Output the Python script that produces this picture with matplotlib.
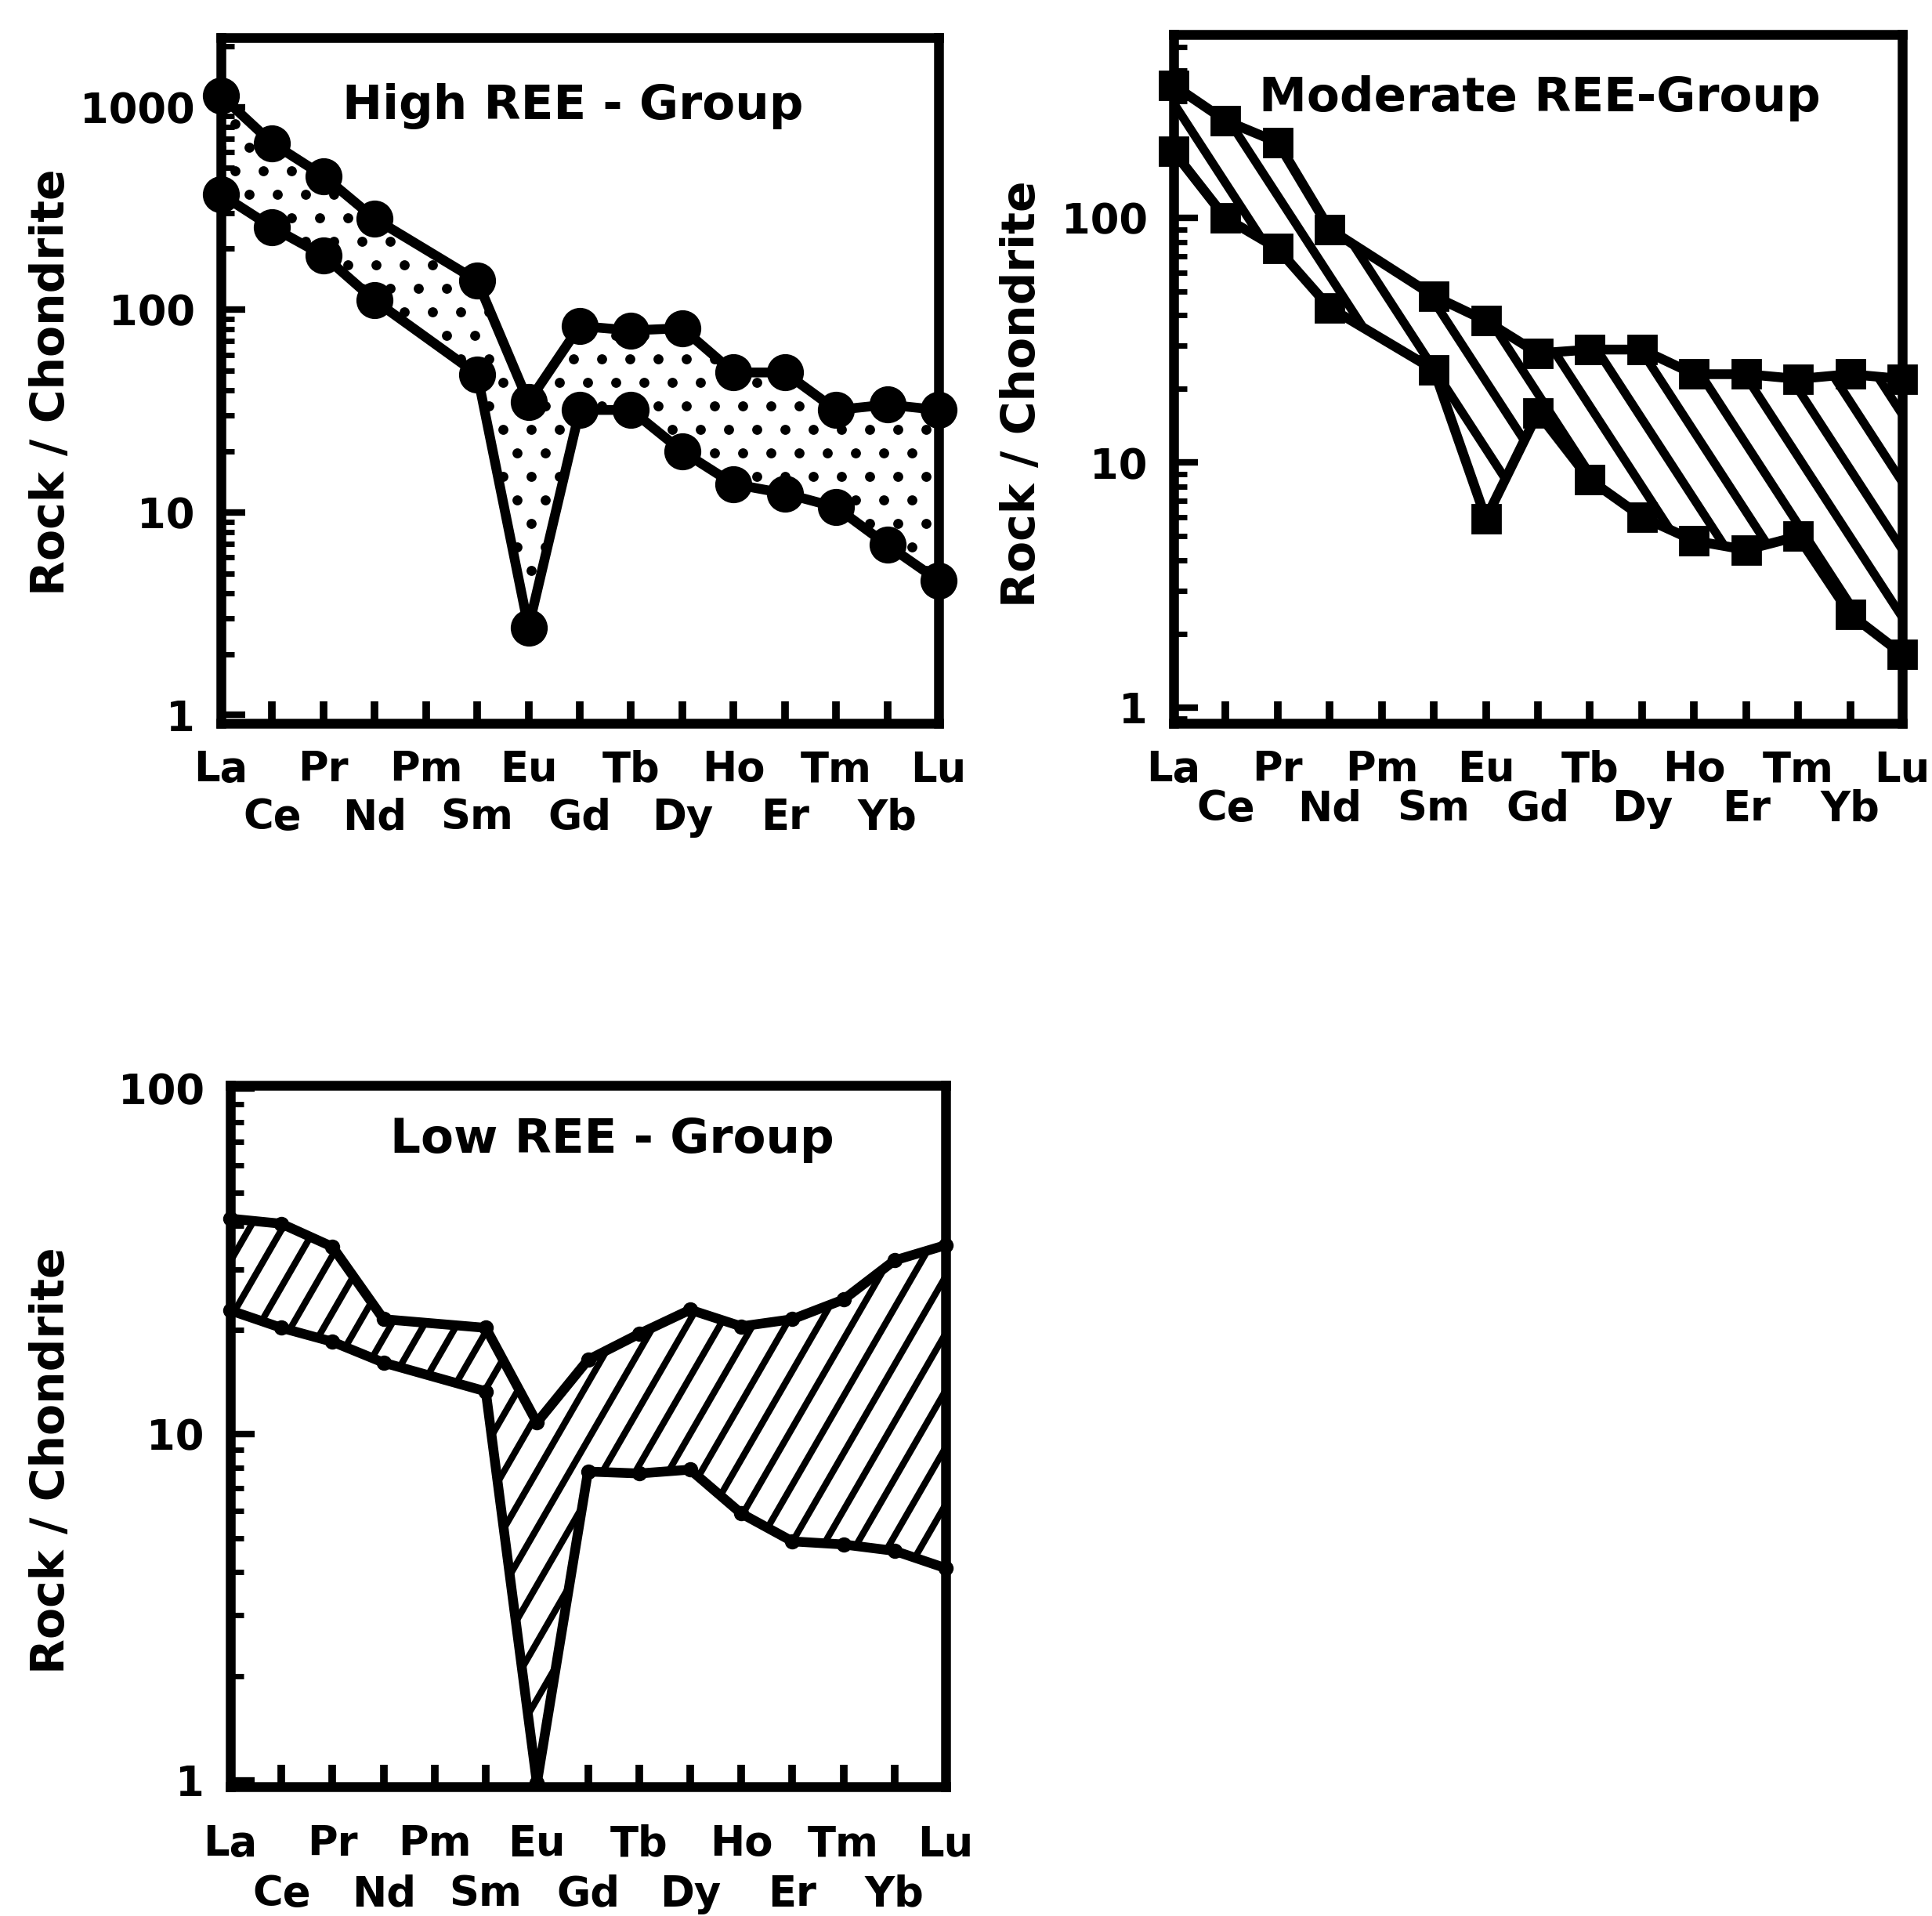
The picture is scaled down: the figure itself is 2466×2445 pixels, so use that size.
import numpy as np
import matplotlib
matplotlib.use("Agg")
import matplotlib.pyplot as plt
from matplotlib.patches import Polygon
from matplotlib.collections import LineCollection
from matplotlib.ticker import LogLocator, NullFormatter

plt.rcParams['font.family'] = ['DejaVu Sans']
plt.rcParams['font.weight'] = 'bold'

nan = np.nan
elements = ["La", "Ce", "Pr", "Nd", "Pm", "Sm", "Eu", "Gd", "Tb", "Dy", "Ho", "Er", "Tm", "Yb", "Lu"]

high_upper = [1140, 664, 457, 281, nan, 139, 35, 83, 79, 81, 49, 49, 32, 34, 32]
high_lower = [371, 255, 185, 111, nan, 48, 2.7, 32, 32, 20, 13.8, 12.4, 10.6, 6.9, 4.6]

mod_upper = [349, 250, 204, 90, nan, 48, 38, 28, 29, 29, 23, 23, 22, 23, 22]
mod_lower = [187, 100, 75, 43, nan, 24, 5.9, 16, 8.5, 6.0, 4.8, 4.4, 5.0, 2.4, 1.65]

low_upper = [42, 40.6, 34.8, 21.5, nan, 20.3, 10.8, 16.4, 19.5, 22.9, 20.5, 21.5, 24.5, 31.8, 35.2]
low_lower = [22.8, 20.3, 18.5, 16.1, nan, 13.3, 0.98, 7.8, 7.7, 7.9, 5.9, 4.9, 4.8, 4.6, 4.1]

titles = ["High REE - Group", "Moderate REE-Group", "Low REE - Group"]
ylabel = "Rock / Chondrite"

W, H = 2466, 2445
DPI = 200
fig = plt.figure(figsize=(W / DPI, H / DPI), dpi=DPI)
fig.patch.set_facecolor('white')

# axes boxes in pixels: left, top, right, bottom
boxes = [(282, 48, 1198, 923), (1498, 44, 2428, 923), (294, 1385, 1207, 2280)]
ylims = [(0.91, 2200), (0.86, 563), (0.957, 102)]
yticks = [[1, 10, 100, 1000], [1, 10, 100], [1, 10, 100]]
xpads = [(12, 34), (12, 30), (17, 40)]
title_pos = [(0.49, 0.90), (0.503, 0.907), (0.534, 0.922)]
ylabel_pos = [(66, 488), (1305, 503), (66, 1864)]


def make_axes(i):
    l, t, r, b = boxes[i]
    ax = fig.add_axes([l / W, 1 - b / H, (r - l) / W, (b - t) / H])
    ax.set_yscale('log')
    ax.set_xlim(0, 14)
    ax.set_ylim(*ylims[i])
    for s in ax.spines.values():
        s.set_linewidth(4.5)
        s.set_color('black')
    ax.set_xticks(range(0, 15, 2))
    ax.set_xticklabels(elements[0::2])
    ax.set_xticks(range(1, 15, 2), minor=True)
    ax.set_xticklabels(elements[1::2], minor=True)
    ax.tick_params(axis='x', which='both', direction='in', length=10, width=3.5,
                   top=False, labelsize=19)
    ax.tick_params(axis='x', which='major', pad=xpads[i][0])
    ax.tick_params(axis='x', which='minor', pad=xpads[i][1])
    ax.set_yticks(yticks[i])
    ax.set_yticklabels([str(v) for v in yticks[i]])
    ax.yaxis.set_minor_locator(LogLocator(base=10, subs=np.arange(2, 10)))
    ax.yaxis.set_minor_formatter(NullFormatter())
    ax.tick_params(axis='y', which='major', direction='in', length=11, width=3,
                   right=False, labelsize=19, pad=12)
    ax.tick_params(axis='y', which='minor', direction='in', length=6, width=2.5,
                   right=False)
    for lab in ax.get_xticklabels(which='both') + ax.get_yticklabels():
        lab.set_fontweight('bold')
    ax.text(title_pos[i][0], title_pos[i][1], titles[i], transform=ax.transAxes,
            ha='center', va='center', fontsize=22, fontweight='bold')
    fig.text(ylabel_pos[i][0] / W, 1 - ylabel_pos[i][1] / H, ylabel, rotation=90,
             ha='center', va='center', fontsize=21, fontweight='bold')
    return ax


def band_polygon(ax, up, lo):
    x = np.arange(len(elements))
    u = np.array(up, float)
    lw_ = np.array(lo, float)
    mu = ~np.isnan(u)
    ml = ~np.isnan(lw_)
    verts = list(zip(x[mu], u[mu])) + list(zip(x[ml][::-1], lw_[ml][::-1]))
    poly = Polygon(verts, closed=True, transform=ax.transData,
                   facecolor='white', edgecolor='none', zorder=1)
    ax.add_patch(poly)
    return poly


def add_hatch(ax, poly, i, angle_deg, spacing_px, lw):
    l, t, r, b = boxes[i]
    w, h = r - l, b - t
    th = np.deg2rad(angle_deg)
    dxp, dyp = np.cos(th), np.sin(th)
    L = 4 * max(w, h)
    segs = []
    for x0 in np.arange(-3 * w, 4 * w, spacing_px):
        p0 = ((x0 - dxp * L) / w, (-dyp * L) / h)
        p1 = ((x0 + dxp * L) / w, (dyp * L) / h)
        segs.append([p0, p1])
    lc = LineCollection(segs, colors='black', linewidths=lw,
                        transform=ax.transAxes, zorder=2)
    ax.add_collection(lc, autolim=False)
    lc.set_clip_path(poly)


def add_dots(ax, poly, i, sx, sy, ms):
    l, t, r, b = boxes[i]
    w, h = r - l, b - t
    xs, ys = [], []
    for j, yy in enumerate(np.arange(sy / 2, h, sy)):
        off = sx / 2 if j % 2 else 0.0
        for xx in np.arange(off, w, sx):
            xs.append(xx / w)
            ys.append(yy / h)
    dots, = ax.plot(xs, ys, linestyle='none', marker='o', ms=ms, color='black',
                    transform=ax.transAxes, zorder=2)
    dots.set_clip_path(poly)


def draw_series(ax, vals, marker, ms, lw):
    x = np.arange(len(elements))
    v = np.array(vals, float)
    m = ~np.isnan(v)
    ax.plot(x[m], v[m], color='black', lw=lw, marker=marker, ms=ms,
            mfc='black', mec='black', clip_on=False, zorder=4,
            solid_joinstyle='round')


# Panel 1: High REE
ax1 = make_axes(0)
p1 = band_polygon(ax1, high_upper, high_lower)
add_dots(ax1, p1, 0, 36, 30, 3.6)
draw_series(ax1, high_upper, 'o', 16, 4.5)
draw_series(ax1, high_lower, 'o', 16, 4.5)

# Panel 2: Moderate REE
ax2 = make_axes(1)
p2 = band_polygon(ax2, mod_upper, mod_lower)
add_hatch(ax2, p2, 1, -57, 56, 4.0)
draw_series(ax2, mod_upper, 's', 13, 4.5)
draw_series(ax2, mod_lower, 's', 13, 4.5)

# Panel 3: Low REE
ax3 = make_axes(2)
p3 = band_polygon(ax3, low_upper, low_lower)
add_hatch(ax3, p3, 2, 60, 42, 3.0)
draw_series(ax3, low_upper, 'o', 6, 4.5)
draw_series(ax3, low_lower, 'o', 6, 4.5)

fig.savefig("out.png", dpi=DPI, facecolor='white')
